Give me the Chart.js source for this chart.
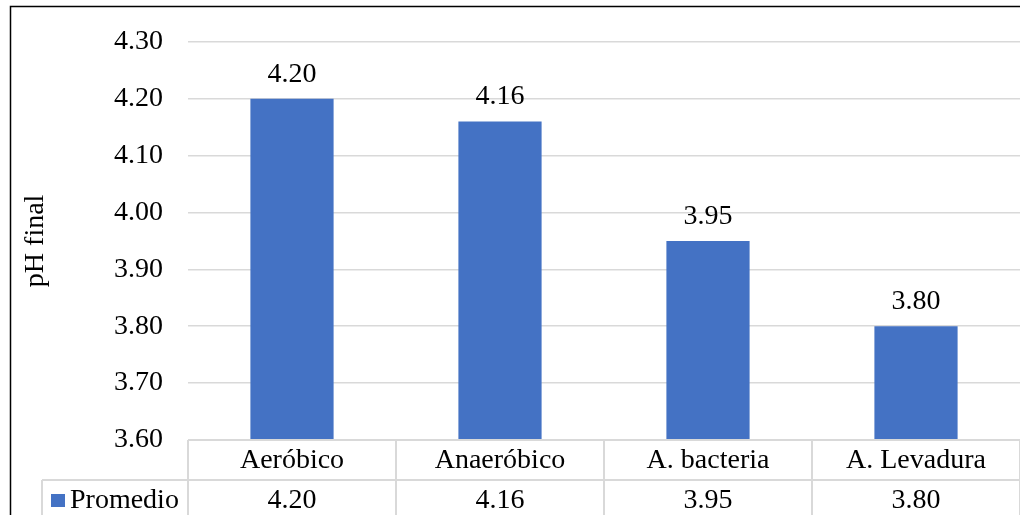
<!DOCTYPE html>
<html>
<head>
<meta charset="utf-8">
<script src="https://cdn.jsdelivr.net/npm/chart.js@4.4.1/dist/chart.umd.min.js"></script>
<style>
  html, body { margin: 0; padding: 0; background: #ffffff; }
  #wrap { width: 1020px; height: 515px; }
</style>
</head>
<body>
<div id="wrap"><canvas id="c" width="1020" height="515"></canvas></div>
<script>
// Tratamientos y pH final promedio
const categories = ['Aeróbico', 'Anaeróbico', 'A. bacteria', 'A. Levadura'];
const promedio = [4.20, 4.16, 3.95, 3.80];
const seriesName = 'Promedio';
const yTicks = [3.60, 3.70, 3.80, 3.90, 4.00, 4.10, 4.20, 4.30];

const FONT = "'Liberation Serif', 'Times New Roman', serif";
const FONT_SIZE = 28;
const BAR_COLOR = '#4472C4';
const LINE_COLOR = '#d9d9d9';

// Outer frame and white background
const framePlugin = {
  id: 'frame',
  beforeDraw(chart) {
    const ctx = chart.ctx;
    ctx.save();
    ctx.fillStyle = '#ffffff';
    ctx.fillRect(0, 0, chart.width, chart.height);
    ctx.strokeStyle = '#000000';
    ctx.lineWidth = 1.5;
    ctx.beginPath();
    ctx.moveTo(10.5, chart.height + 5);
    ctx.lineTo(10.5, 6.5);
    ctx.lineTo(chart.width + 5, 6.5);
    ctx.stroke();
    ctx.restore();
  }
};

// Value labels above each bar
const valueLabels = {
  id: 'valueLabels',
  afterDatasetsDraw(chart) {
    const ctx = chart.ctx;
    const meta = chart.getDatasetMeta(0);
    ctx.save();
    ctx.font = FONT_SIZE + 'px ' + FONT;
    ctx.fillStyle = '#000000';
    ctx.textAlign = 'center';
    ctx.textBaseline = 'alphabetic';
    meta.data.forEach((bar, i) => {
      ctx.fillText(promedio[i].toFixed(2), bar.x, bar.y - 17);
    });
    ctx.restore();
  }
};

// Data table under the plot: category row and value row with legend key
const dataTable = {
  id: 'dataTable',
  afterDraw(chart) {
    const ctx = chart.ctx;
    const area = chart.chartArea;
    const x = chart.scales.x;
    const top = area.bottom;
    const rowH = 40;
    const mid = top + rowH;
    const bottom = chart.height + 5;
    const legendLeft = 42;
    const n = categories.length;
    const colW = (area.right - area.left) / n;

    ctx.save();
    ctx.strokeStyle = LINE_COLOR;
    ctx.lineWidth = 2;
    ctx.beginPath();
    // top line of the table
    ctx.moveTo(area.left, top);
    ctx.lineTo(area.right, top);
    // line between the two rows
    ctx.moveTo(legendLeft, mid);
    ctx.lineTo(area.right, mid);
    // legend cell left edge
    ctx.moveTo(legendLeft, mid);
    ctx.lineTo(legendLeft, bottom);
    // column separators
    for (let i = 0; i <= n; i++) {
      const cx = Math.round(area.left + i * colW);
      ctx.moveTo(cx, top);
      ctx.lineTo(cx, bottom);
    }
    ctx.stroke();

    ctx.font = FONT_SIZE + 'px ' + FONT;
    ctx.fillStyle = '#000000';
    ctx.textAlign = 'center';
    ctx.textBaseline = 'middle';
    categories.forEach((c, i) => {
      const px = x.getPixelForValue(i);
      ctx.fillText(c, px, top + rowH / 2 + 1);
      ctx.fillText(promedio[i].toFixed(2), px, mid + 21);
    });

    // legend key
    ctx.fillStyle = BAR_COLOR;
    ctx.fillRect(51, 494, 14, 13);
    ctx.fillStyle = '#000000';
    ctx.textAlign = 'left';
    ctx.fillText(seriesName, 70, mid + 21);
    ctx.restore();
  }
};

new Chart(document.getElementById('c'), {
  type: 'bar',
  data: {
    labels: categories,
    datasets: [{
      label: seriesName,
      data: promedio,
      backgroundColor: BAR_COLOR,
      borderWidth: 0,
      barPercentage: 0.4,
      categoryPercentage: 1.0
    }]
  },
  options: {
    responsive: false,
    animation: false,
    devicePixelRatio: 1,
    layout: { padding: { top: 40, bottom: 75, left: 0, right: 0 } },
    plugins: {
      legend: { display: false },
      tooltip: { enabled: false },
      title: { display: false }
    },
    scales: {
      x: {
        display: false,
        offset: true
      },
      y: {
        min: 3.6,
        max: 4.3,
        afterBuildTicks(scale) {
          scale.ticks = yTicks.map(v => ({ value: v }));
        },
        afterFit(scale) { scale.width = 188; },
        border: { display: false },
        grid: {
          color: LINE_COLOR,
          lineWidth: 1.5,
          drawTicks: false
        },
        ticks: {
          padding: 25,
          color: '#000000',
          font: { family: FONT, size: FONT_SIZE },
          callback: (v) => Number(v).toFixed(2)
        },
        title: {
          display: true,
          text: 'pH final',
          color: '#000000',
          font: { family: FONT, size: FONT_SIZE },
          padding: { top: 19, bottom: 0 }
        }
      }
    }
  },
  plugins: [framePlugin, valueLabels, dataTable]
});
</script>
</body>
</html>
